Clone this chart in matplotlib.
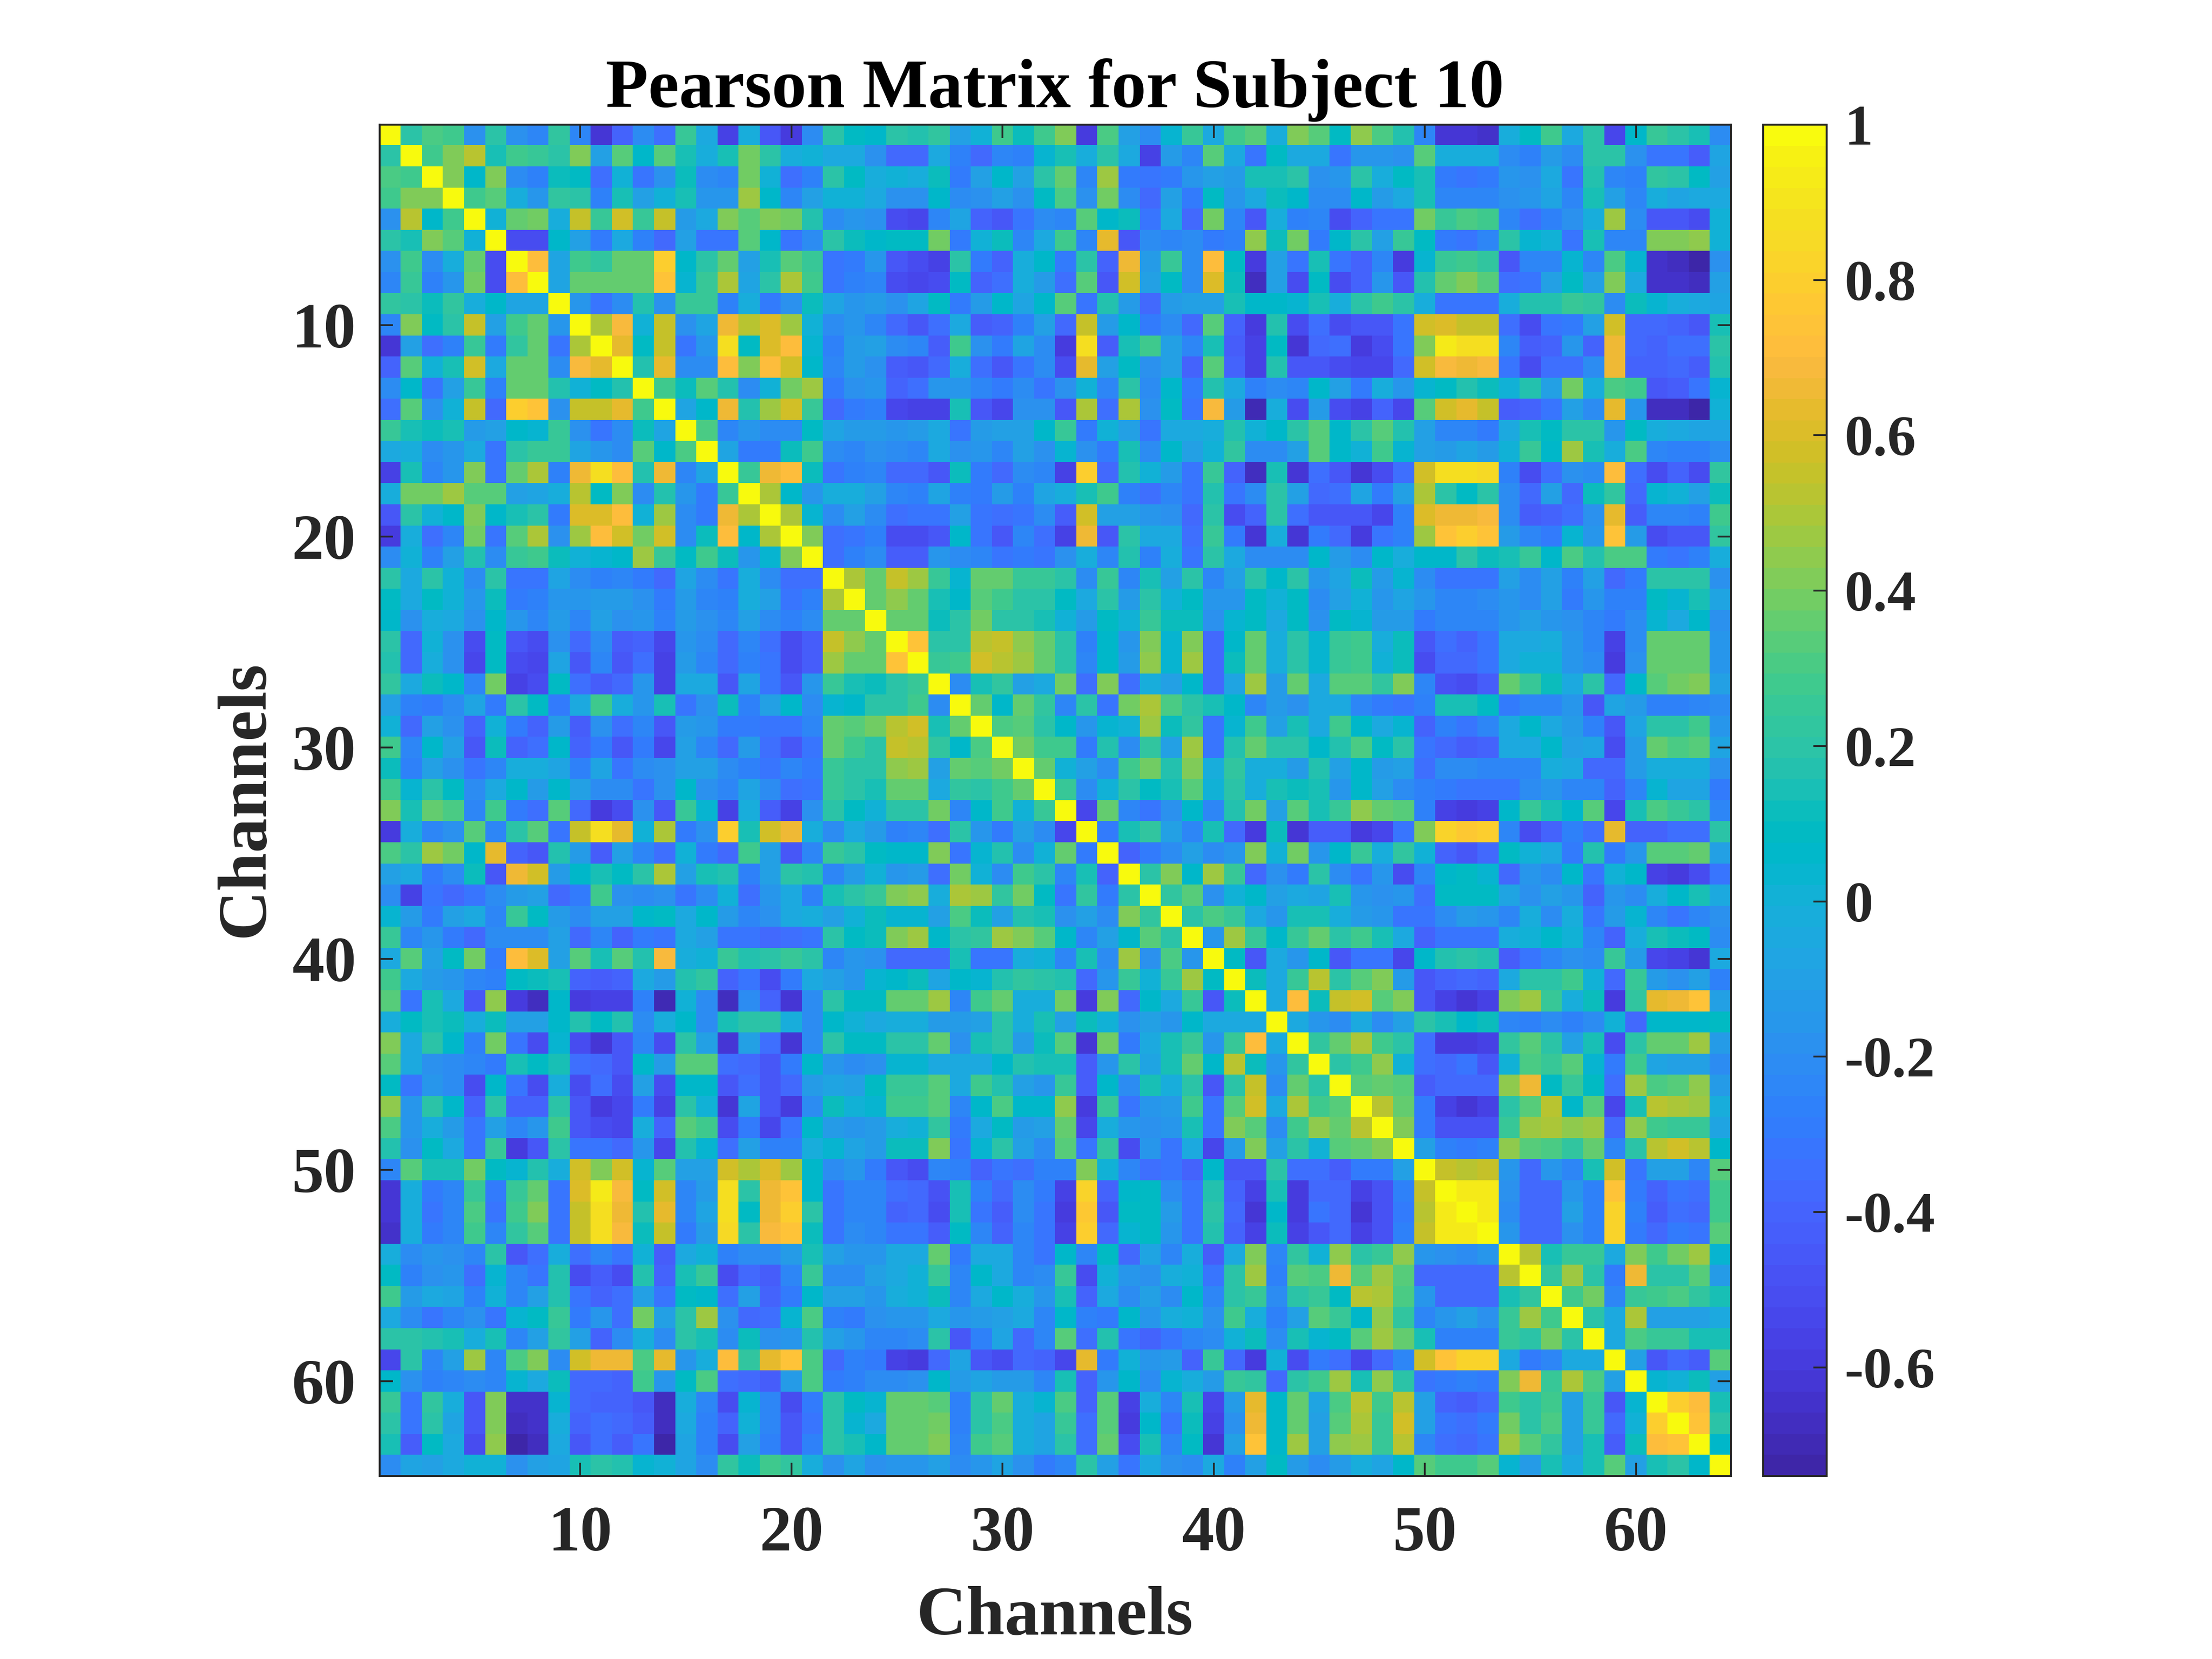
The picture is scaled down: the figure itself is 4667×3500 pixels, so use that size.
import numpy as np
import matplotlib
matplotlib.use('Agg')
from matplotlib import pyplot as plt
from matplotlib.colors import ListedColormap

# upper triangle of the matrix, one list per row, starting right of the diagonal
row01 = [.2,.32,.28,-.17,.2,-.17,-.23,.23,-.25,-.62,-.39,-.2,-.35,.24,-.06,-.56,-.03,-.45,-.6,-.2,
         .2,.09,.06,.2,.18,.22,-.11,.02,.27,.11,.27,.42,-.6,.31,-.11,-.2,.04,.25,-.06,.27,.34,-.03,
         .42,.33,.09,.44,.31,.17,-.25,-.62,-.62,-.65,-.03,.09,.27,-.06,.2,-.53,.06,.25,.2,.14,-.21]
row02 = [.29,.41,.53,.13,.29,.24,.2,.42,-.09,.34,.07,.34,.14,-.03,.13,.38,.2,-.01,.01,
         -.06,-.06,-.17,-.38,-.38,-.05,-.26,-.38,-.23,-.26,.03,.14,-.01,.21,-.04,-.55,-.14,-.23,.34,-.06,-.31,.09,
         -.06,-.06,-.31,-.15,-.15,-.17,.34,-.03,-.02,-.03,-.22,-.26,-.14,-.2,.21,.19,-.17,-.31,-.32,-.42,-.07]
row03 = [.42,.07,.42,-.21,-.26,.11,.09,-.35,.01,-.31,-.17,.11,-.21,-.24,.39,.01,-.35,-.26,
         .2,.1,-.01,0,-.02,.11,-.28,-.1,.07,-.11,.2,.35,-.23,.46,-.28,-.33,-.28,-.16,-.09,-.14,.14,.14,
         .2,-.18,-.15,.2,-.03,.09,.15,-.28,-.31,-.28,-.16,-.18,-.04,-.31,.16,-.25,-.26,.22,.2,.1,-.09]
row04 = [.28,.34,-.02,-.15,.22,.21,-.26,.14,-.1,.01,.13,-.15,-.15,.46,.06,-.23,-.1,
         .02,0,-.06,-.17,-.17,.06,-.21,-.17,-.11,-.19,.09,.32,-.17,.38,-.21,-.38,-.11,-.28,.09,-.16,-.06,.11,
         .07,-.2,-.2,.07,-.14,-.04,.15,-.24,-.24,-.24,-.19,-.16,-.07,-.24,.14,-.11,-.24,-.01,-.07,-.06,-.06]
row05 = [.01,.37,.39,-.02,.54,.24,.59,.26,.56,-.14,-.06,.41,.34,.42,.38,.17,
         -.21,-.15,-.18,-.5,-.54,-.23,-.07,-.4,-.45,-.31,-.22,-.23,.33,.06,.11,-.31,-.04,-.38,.38,-.23,-.45,-.01,
         -.26,-.24,-.5,-.4,-.33,-.33,.4,.26,.32,.29,-.23,-.35,-.26,-.18,-.03,.46,-.21,-.45,-.45,-.5,.01]
row06 = [-.5,-.5,.07,-.09,-.28,-.04,-.26,-.38,-.1,-.31,-.31,.33,.06,-.33,-.21,
         .2,.11,.07,.09,.09,.39,-.28,0,.12,-.24,-.04,.27,-.24,.63,-.45,-.22,-.23,-.21,-.3,-.26,.44,.12,
         .39,-.3,.07,.21,-.1,.24,.09,-.3,-.31,-.24,.19,.03,.02,-.33,.13,-.24,-.24,.41,.42,.44,.02]
row07 = [.72,-.08,.29,.22,.35,.35,.79,.07,.19,.36,-.11,.13,.33,.26,
         -.33,-.28,-.16,-.45,-.5,-.55,.19,-.28,-.4,-.03,.05,-.3,.19,-.39,.67,-.14,.25,-.2,.72,.09,-.6,-.09,
         -.31,.14,-.31,-.4,-.25,-.6,.04,.24,.29,.22,-.45,-.23,-.24,.03,-.24,.3,.04,-.64,-.68,-.72,-.18]
row08 = [-.07,.36,.37,.36,.36,.75,.03,.24,.5,-.08,.19,.5,.28,
         -.31,-.26,-.25,-.5,-.53,-.52,.1,-.4,-.35,-.02,-.12,-.35,.33,-.46,.57,-.09,.1,-.22,.6,.12,-.66,-.09,
         -.5,.1,-.5,-.39,-.15,-.46,.17,.37,.41,.34,-.35,-.31,-.1,.09,-.11,.41,-.06,-.65,-.65,-.66,-.09]
row09 = [-.15,-.33,-.22,.17,-.17,.25,.25,-.26,-.03,-.3,-.18,.11,
         -.07,-.15,-.14,-.17,-.08,.08,-.3,-.14,.05,-.08,.06,.33,-.31,.17,-.14,-.38,-.14,-.1,-.09,.13,.05,.06,
         .04,.14,-.02,.21,.28,.2,-.03,-.31,-.31,-.31,-.02,.16,.18,.25,.23,-.21,.12,.03,-.03,-.06,-.07]
row10 = [.5,.7,.01,.56,-.19,-.07,.67,.53,.61,.48,.01,
         -.2,-.15,-.24,-.38,-.45,-.35,-.06,-.44,-.39,-.26,-.11,-.37,.55,-.14,.05,-.28,-.2,-.38,.33,-.4,-.6,.17,
         -.5,-.35,-.5,-.45,-.45,-.33,.59,.6,.55,.56,-.34,-.5,-.31,-.3,-.09,.57,-.38,-.38,-.39,-.45,.13]
row11 = [.64,.09,.54,-.31,-.16,.88,.09,.61,.72,.04,
         -.26,-.14,-.11,-.22,-.23,-.42,.28,-.17,-.28,-.08,-.22,-.6,.88,-.42,.15,.28,-.11,-.24,.13,-.42,-.57,.09,
         -.62,-.38,-.35,-.6,-.5,-.32,.41,.92,.89,.88,-.23,-.42,-.4,-.16,-.39,.67,-.38,-.4,-.34,-.34,.2]
row12 = [.17,.63,-.21,-.21,.72,.42,.72,.58,.05,
         -.24,-.13,-.19,-.42,-.46,-.38,-.01,-.34,-.45,-.31,-.22,-.51,.63,-.1,.1,-.17,-.1,-.4,.34,-.4,-.55,.17,
         -.45,-.45,-.52,-.54,-.54,-.38,.59,.68,.67,.69,-.31,-.5,-.35,-.34,-.21,.67,-.39,-.39,-.37,-.44,.17]
row13 = [.29,.11,.34,.16,-.21,.02,.39,.46,
         -.3,-.17,-.16,-.39,-.35,-.15,-.15,-.23,-.3,-.22,-.31,-.18,.01,-.24,.2,-.21,.06,-.3,.18,-.06,-.26,-.22,
         -.23,.07,-.09,-.3,-.03,-.15,.04,.1,.17,.11,.01,.18,-.1,.38,-.01,.3,.27,-.45,-.44,-.33,.04]
row14 = [-.08,.05,.67,.16,.47,.59,.24,
         -.37,-.3,-.26,-.54,-.57,-.56,.15,-.45,-.53,-.17,-.17,-.46,.5,-.35,.49,-.18,.08,-.33,.7,-.14,-.71,-.03,
         -.5,-.13,-.5,-.56,-.4,-.53,.33,.58,.63,.56,-.42,-.4,-.33,-.1,-.2,.62,-.15,-.66,-.67,-.72,.01]
row15 = [.32,-.25,-.16,-.21,-.21,.09,
         -.07,-.14,-.14,-.15,-.12,-.04,-.31,-.14,-.09,-.09,.05,.26,-.3,.02,-.09,-.31,-.04,-.04,-.03,.17,.01,.06,
         .2,.33,.06,.2,.34,.17,-.09,-.25,-.25,-.3,-.06,.13,.1,.2,.2,-.16,.09,-.01,-.05,-.07,-.07]
row16 = [-.07,-.3,-.3,.12,.29,
         -.21,-.25,-.19,-.22,-.25,-.06,-.17,-.16,-.24,-.1,-.17,.04,-.17,-.3,.15,-.22,.05,-.11,.01,.22,-.22,-.22,
         -.1,.33,.06,.01,.29,.04,-.1,-.13,-.07,-.14,.01,.26,.06,.48,.14,-.03,.3,-.23,-.26,-.26,-.21]
row17 = [.24,.67,.72,.12,
         -.33,-.26,-.24,-.38,-.38,-.45,.11,-.3,-.38,-.2,-.23,-.56,.79,-.38,.17,.02,-.14,-.32,.25,-.39,-.66,.13,
         -.62,-.34,-.46,-.63,-.5,-.35,.57,.89,.89,.86,-.27,-.5,-.35,-.17,-.21,.72,-.34,-.52,-.39,-.5,.22]
row18 = [.51,.05,-.15,
         -.03,-.01,-.11,-.24,-.27,-.07,-.27,-.3,-.13,-.26,-.07,-.03,.14,.29,-.26,-.34,-.25,-.31,.17,-.32,-.2,.19,
         -.11,-.38,-.35,-.08,-.3,-.09,.5,.19,.1,.2,-.22,-.37,-.11,-.38,.12,.22,-.37,.04,.02,-.1,.11]
row19 = [.51,.04,
         -.22,-.11,-.21,-.35,-.33,-.33,-.1,-.33,-.35,-.31,-.22,-.44,.57,-.11,-.1,-.16,-.19,-.37,.21,-.5,-.4,.19,
         -.35,-.45,-.45,-.45,-.53,-.26,.6,.67,.65,.7,-.22,-.42,-.4,-.35,-.18,.63,-.44,-.24,-.23,-.27,.27]
row20 = [.42,
         -.34,-.31,-.27,-.5,-.52,-.46,.06,-.31,-.45,-.23,-.35,-.56,.65,-.46,.21,-.05,-.05,-.35,.26,-.3,-.62,-.03,
         -.62,-.28,-.37,-.6,-.33,-.26,.46,.74,.79,.75,-.12,-.23,-.28,.04,-.16,.74,-.12,-.5,-.45,-.45,.22]
row21 = [-.34,-.26,-.22,-.44,-.44,-.16,-.2,-.24,-.31,-.28,-.32,-.18,-.02,-.23,.17,-.27,-.02,-.32,.19,-.04,-.21,-.21,
         -.2,.05,-.13,-.2,.07,-.02,.07,.07,.19,.11,.14,.25,.06,.31,.18,.31,.32,-.3,-.31,-.27,-.02]
row22 = [.51,.37,.54,.48,.26,.03,.36,.36,.25,.26,.2,-.2,.26,-.25,.15,-.1,.19,-.25,-.11,.19,.06,
         .19,-.15,-.07,.12,-.14,.04,-.22,-.31,-.33,-.31,-.09,-.2,-.09,-.26,-.11,-.38,-.28,.2,.2,.2,-.18]
row23 = [.36,.43,.37,.13,.06,.34,.29,.19,.2,.1,-.06,.19,-.14,.2,.01,.08,-.16,-.16,.1,.02,
         .09,-.2,-.1,.01,-.15,-.07,-.15,-.23,-.23,-.22,-.15,-.2,-.1,-.28,-.15,-.26,-.27,.1,.04,.13,-.07]
row24 = [.37,.37,.11,.19,.39,.2,.19,.13,.01,-.14,.1,0,.24,.11,.11,-.18,.04,.1,-.05,
         .08,-.19,.1,.03,-.12,-.14,-.28,-.23,-.23,-.23,-.15,-.1,-.16,-.18,-.24,-.29,-.2,.04,-.05,.05,-.19]
row25 = [.74,.2,.2,.53,.56,.44,.36,.19,-.26,.07,-.15,.41,.04,.42,-.37,.07,.36,-.02,
         .21,.04,.26,.27,-.03,.11,-.46,-.35,-.39,-.33,-.06,-.06,-.03,-.15,-.24,-.55,-.2,.37,.37,.37,-.16]
row26 = [.24,.27,.59,.53,.47,.37,.2,-.24,.07,-.14,.44,.04,.46,-.37,.12,.37,-.02,
         .21,.04,.26,.27,.01,.11,-.52,-.36,-.38,-.33,-.06,0,.02,-.15,-.21,-.58,-.18,.36,.36,.37,-.16]
row27 = [-.2,.14,.22,-.1,-.04,.39,-.34,.41,-.35,-.02,-.09,.05,-.37,-.07,.47,-.14,
         .36,-.04,.34,.33,.22,.41,-.23,-.47,-.5,-.42,.37,.26,.11,-.06,.2,-.38,.07,.33,.39,.42,-.09]
row28 = [.36,.05,.37,.22,-.24,.21,-.31,.4,.5,.3,.2,.15,.06,-.24,-.14,
         -.18,-.05,-.06,-.24,-.3,-.33,-.27,.14,.14,.09,-.3,-.23,-.23,-.16,-.45,-.08,-.14,-.26,-.26,-.24,-.2]
row29 = [.3,.33,.2,.07,-.15,.04,.01,.47,.12,.22,-.31,.03,.29,-.11,
         .14,-.05,.29,.07,-.05,.04,-.4,-.26,-.31,-.25,-.04,.06,-.06,-.14,-.27,-.46,-.07,.2,.2,.28,-.15]
row30 = [.38,.27,.28,-.3,.17,-.22,.22,-.09,.47,-.32,.18,.37,.19,
         .19,.06,.18,.31,.08,.19,-.33,-.38,-.44,-.39,-.05,-.06,.06,-.1,-.07,-.51,-.14,.35,.31,.33,-.07]
row31 = [.36,.02,-.09,-.21,.28,.4,.18,.41,-.02,.23,-.03,-.03,
         -.14,.18,-.1,.06,-.14,-.11,-.34,-.2,-.22,-.23,-.24,-.24,-.03,-.05,-.38,-.38,-.14,-.01,-.01,-.02,-.17]
row32 = [.25,-.2,.01,.19,.1,.14,.34,.01,.2,-.02,.14,
         .11,.14,-.15,.06,-.1,-.2,-.26,-.29,-.31,-.31,-.32,-.22,-.15,-.24,-.24,-.4,-.25,.04,-.07,-.07,-.29]
row33 = [-.54,.37,-.24,-.31,-.17,.06,-.23,.17,.39,-.1,
         .33,.14,.24,.43,.35,.34,-.26,-.57,-.6,-.57,.07,.25,.13,.06,.33,-.54,.13,.32,.24,.2,-.23]
row34 = [-.28,.13,.22,-.09,-.24,.14,-.38,-.6,.11,-.62,
         -.44,-.42,-.6,-.53,-.32,.41,.82,.77,.79,-.24,-.5,-.4,-.26,-.35,.63,-.4,-.4,-.34,-.34,.19]
row35 = [-.39,-.3,-.2,-.1,-.22,-.16,.41,.01,.38,
         -.16,.06,.24,-.02,.22,.01,-.4,-.45,-.37,.1,0,-.05,-.3,.18,-.3,-.15,.33,.33,.35,-.09]
row36 = [.2,.41,.07,.48,.26,-.38,-.19,-.29,
         .19,-.2,-.33,-.16,-.5,-.23,.06,.09,.04,-.38,-.16,-.21,.06,-.33,.02,.07,-.55,-.6,-.52,-.33]
row37 = [.22,.33,-.19,.01,.07,-.1,-.06,
         -.07,.13,-.16,-.17,-.15,-.34,.09,.1,.08,-.07,-.17,-.11,-.16,-.4,-.16,-.21,-.02,.06,.14,-.06]
row38 = [.2,.31,.25,-.06,-.16,.15,
         .13,-.02,-.13,-.15,-.31,-.31,-.2,-.14,-.16,-.23,-.02,-.21,-.02,-.32,-.14,.04,-.25,-.31,-.24,-.18]
row39 = [-.15,.46,.25,.07,.25,
         .35,.19,.27,.15,-.06,-.4,-.31,-.32,-.32,-.03,.01,.07,0,-.23,-.4,-.02,.14,.11,.1,-.21]
row40 = [.09,-.46,-.06,-.16,
         .05,-.45,-.31,-.31,-.53,.06,.18,.19,.17,-.44,-.33,-.24,-.18,-.2,.26,-.14,-.53,-.57,-.63,-.04]
row41 = [.12,-.06,.25,
         .53,.19,.33,.41,-.14,-.45,-.4,-.36,-.4,-.06,.2,.2,.29,.01,-.38,.26,-.13,-.18,-.11,-.26]
row42 = [-.06,.71,
         .12,.56,.59,.34,.41,-.45,-.57,-.62,-.56,.41,.47,.24,-.03,.12,-.6,.22,.63,.65,.74,-.1]
row43 = [-.05,
         -.15,-.21,-.04,-.21,-.1,.2,.15,.06,.12,-.25,-.27,-.22,-.26,-.22,0,-.38,.06,.06,.06,.09]
row44 = [.22,.37,.49,.27,.2,-.35,-.6,-.6,-.57,.22,.34,.19,-.1,.13,-.52,.19,.37,.37,.46,-.12]
row45 = [.2,.27,.43,.02,-.35,-.37,-.33,-.46,.01,.31,.24,.33,.04,-.28,.29,-.08,-.09,-.11,-.2]
row46 = [.33,.37,.33,-.42,-.36,-.36,-.36,.44,.66,.09,.26,.08,-.35,.47,.31,.34,.43,-.14]
row47 = [.53,.37,-.29,-.57,-.62,-.57,.2,.33,.53,.06,.33,-.54,.15,.52,.5,.46,-.01]
row48 = [.41,-.28,-.49,-.49,-.49,.24,.47,.51,.44,.47,-.38,.44,.29,.24,.25,-.08]
row49 = [-.09,-.27,-.28,-.26,.43,.33,.31,.23,.36,-.25,.21,.53,.57,.53,.05]
row50 = [.55,.53,.55,-.15,-.38,-.16,-.24,.13,.59,-.31,-.11,-.11,-.24,.33]
row51 = [.93,.93,-.17,-.38,-.36,-.16,-.26,.75,-.28,-.39,-.32,-.34,.28]
row52 = [.93,-.21,-.36,-.36,-.1,-.27,.81,-.26,-.44,-.34,-.38,.28]
row53 = [-.15,-.38,-.38,-.17,-.26,.81,-.3,-.37,-.28,-.32,.33]
row54 = [.52,.14,.26,.26,-.05,.42,.28,.4,.47,.03]
row55 = [.22,.46,.2,-.28,.66,.2,.19,.33,-.14]
row56 = [.29,.39,-.25,.25,.28,.3,.23,.14]
row57 = [.19,-.05,.5,-.09,-.09,-.1,-.06]
row58 = [-.05,.3,.24,.26,.14,.14]
row59 = [-.11,-.46,-.38,-.44,.33]
row60 = [.04,0,.11,-.11]
row61 = [.79,.72,.15]
row62 = [.74,.19]
row63 = [.06]

upper_rows = [row01,row02,row03,row04,row05,row06,row07,row08,row09,row10,row11,row12,row13,row14,row15,row16,
              row17,row18,row19,row20,row21,row22,row23,row24,row25,row26,row27,row28,row29,row30,row31,row32,
              row33,row34,row35,row36,row37,row38,row39,row40,row41,row42,row43,row44,row45,row46,row47,row48,
              row49,row50,row51,row52,row53,row54,row55,row56,row57,row58,row59,row60,row61,row62,row63]

axis_ticks = [10, 20, 30, 40, 50, 60]
cbar_ticks = [-0.6, -0.4, -0.2, 0, 0.2, 0.4, 0.6, 0.8, 1]
cbar_labels = ['-0.6', '-0.4', '-0.2', '0', '0.2', '0.4', '0.6', '0.8', '1']

# parula, 64 levels
parula = [[0.2422,0.1504,0.6603],[0.2504,0.1650,0.7076],[0.2578,0.1818,0.7511],[0.2647,0.1978,0.7952],
          [0.2706,0.2147,0.8364],[0.2751,0.2342,0.8710],[0.2783,0.2559,0.8991],[0.2803,0.2782,0.9221],
          [0.2813,0.3006,0.9414],[0.2810,0.3228,0.9579],[0.2795,0.3447,0.9717],[0.2760,0.3667,0.9829],
          [0.2699,0.3892,0.9906],[0.2602,0.4123,0.9952],[0.2440,0.4358,0.9988],[0.2206,0.4603,0.9973],
          [0.1963,0.4847,0.9892],[0.1834,0.5074,0.9798],[0.1786,0.5289,0.9682],[0.1764,0.5499,0.9520],
          [0.1687,0.5703,0.9359],[0.1540,0.5902,0.9218],[0.1460,0.6091,0.9079],[0.1380,0.6276,0.8973],
          [0.1248,0.6459,0.8883],[0.1113,0.6635,0.8763],[0.0952,0.6798,0.8598],[0.0689,0.6948,0.8394],
          [0.0297,0.7082,0.8163],[0.0036,0.7203,0.7917],[0.0067,0.7312,0.7660],[0.0433,0.7411,0.7394],
          [0.0964,0.7500,0.7120],[0.1408,0.7584,0.6842],[0.1717,0.7670,0.6554],[0.1938,0.7758,0.6251],
          [0.2161,0.7843,0.5923],[0.2470,0.7918,0.5567],[0.2906,0.7973,0.5188],[0.3406,0.8008,0.4789],
          [0.3909,0.8029,0.4354],[0.4456,0.8024,0.3909],[0.5044,0.7993,0.3480],[0.5616,0.7942,0.3045],
          [0.6174,0.7876,0.2612],[0.6720,0.7793,0.2227],[0.7242,0.7698,0.1910],[0.7738,0.7598,0.1646],
          [0.8203,0.7498,0.1535],[0.8634,0.7406,0.1596],[0.9035,0.7330,0.1774],[0.9393,0.7288,0.2100],
          [0.9728,0.7298,0.2394],[0.9956,0.7434,0.2371],[0.9970,0.7659,0.2199],[0.9952,0.7861,0.1996],
          [0.9892,0.8086,0.1816],[0.9786,0.8297,0.1655],[0.9676,0.8530,0.1490],[0.9610,0.8742,0.1287],
          [0.9597,0.8977,0.1153],[0.9628,0.9204,0.0951],[0.9691,0.9452,0.0757],[0.9763,0.9831,0.0538]]

n = 64
mat = np.eye(n)
for i, r in enumerate(upper_rows):
    mat[i, i+1:] = r
    mat[i+1:, i] = r

W, H = 4667, 3500
dark = '#262626'
plt.rcParams['font.family'] = ['Liberation Serif', 'DejaVu Serif']
plt.rcParams['font.weight'] = 'bold'

fig = plt.figure(figsize=(W/300, H/300), dpi=300)
ax = fig.add_axes([801/W, 1-3114/H, 2851/W, 2851/H])
im = ax.imshow(mat, cmap=ListedColormap(parula), vmin=-0.74, vmax=1, extent=(0.5, 64.5, 64.5, 0.5),
               interpolation='nearest', aspect='auto')
ax.set_xticks(axis_ticks)
ax.set_yticks(axis_ticks)
ax.tick_params(direction='in', length=6.8, width=0.9, color=dark, labelcolor=dark, labelsize=32.5,
               top=True, right=True, pad=12)
ax.tick_params(axis='x', pad=15)
for s in ax.spines.values():
    s.set_linewidth(1.0)
    s.set_color(dark)

cax = fig.add_axes([3720/W, 1-3114/H, 134/W, 2851/H])
cb = fig.colorbar(im, cax=cax)
cb.set_ticks(cbar_ticks)
cb.set_ticklabels(cbar_labels)
cax.tick_params(direction='in', length=6.8, width=0.9, color=dark, labelcolor=dark, labelsize=29, pad=9)
cb.outline.set_linewidth(1.0)
cb.outline.set_edgecolor(dark)

fig.text(2226/W, 1-226/H, 'Pearson Matrix for Subject 10', ha='center', va='baseline', fontsize=35.2,
         fontweight='bold', color='black')
fig.text(2226/W, 1-3448/H, 'Channels', ha='center', va='baseline', fontsize=35, fontweight='bold', color=dark)
fig.text(519/W, 1-1685/H, 'Channels', ha='center', va='center', rotation=90, rotation_mode='anchor',
         fontsize=35, fontweight='bold', color=dark)

fig.savefig('out.png', dpi=300)
